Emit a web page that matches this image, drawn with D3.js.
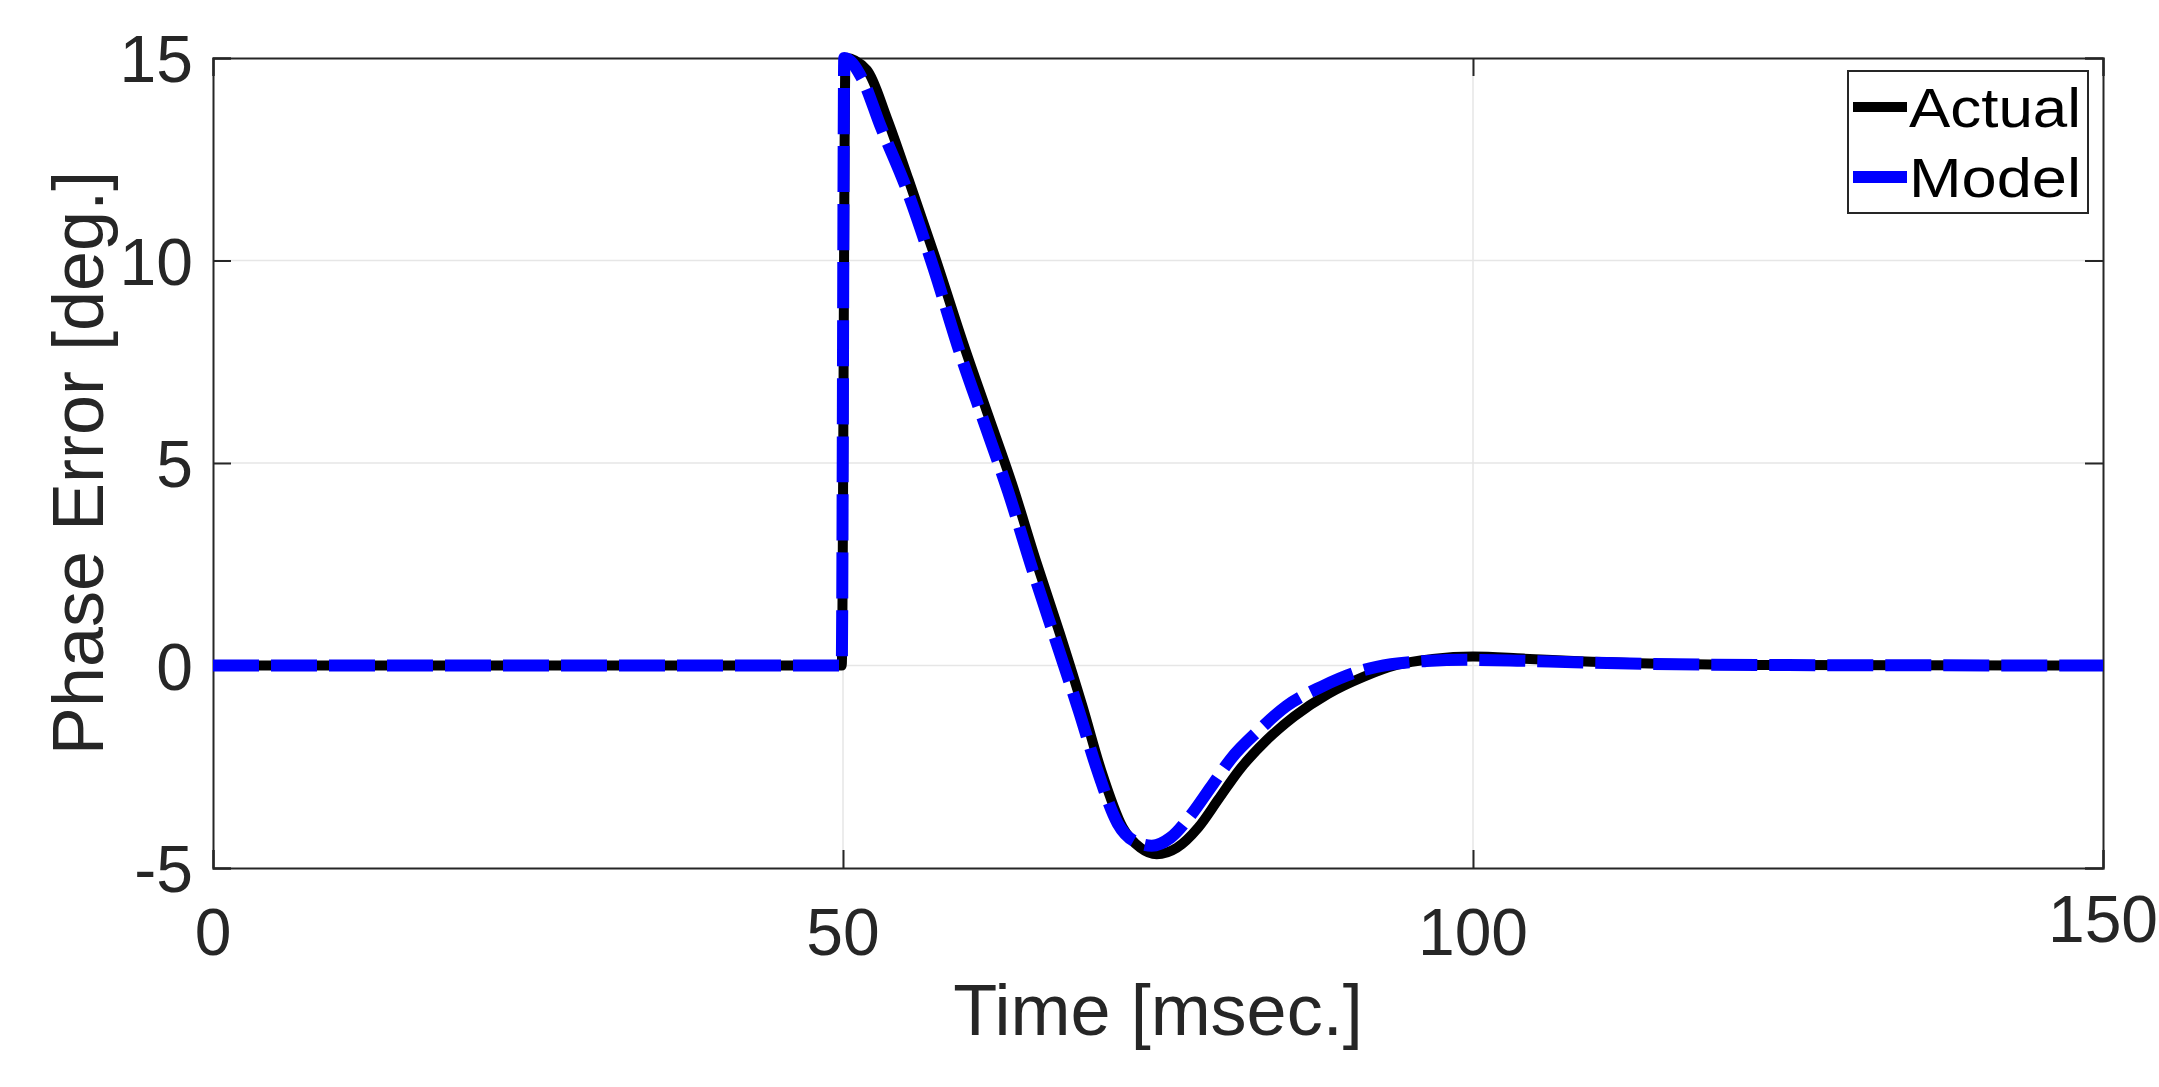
<!DOCTYPE html>
<html><head><meta charset="utf-8">
<script src="https://cdn.jsdelivr.net/npm/d3@7"></script>
<style>body{margin:0;background:#fff}svg{display:block}</style>
</head><body>
<script>
const actualT = [0,49.9,50.2,51.9,53.5,55.2,57.4,59.6,61.5,63.4,65.3,67.2,69,70.5,72.2,73.6,74.9,76.5,78.2,79.8,81.4,83.6,85.8,88.5,91.3,94,96.8,100,104,108,114,125,150];
const actualV = [0,0,15,14.7,13.5,12,10,7.9,6.2,4.5,2.6,0.8,-1,-2.6,-4,-4.5,-4.66,-4.5,-4,-3.3,-2.6,-1.85,-1.26,-0.7,-0.28,0.02,0.16,0.22,0.17,0.11,0.05,0.01,0];
const modelT = [0,49.9,50.1,51.5,53,55,57.2,59.3,61.2,63.1,65,66.9,68.7,70.2,71.8,73.2,74.5,76,77.6,79.2,80.8,83,85.2,88,90.8,93.5,96.3,99.5,103.5,108,114,125,150];
const modelV = [0,0,15,14.5,13.3,11.8,9.8,7.7,6,4.3,2.4,0.6,-1.1,-2.6,-3.9,-4.35,-4.45,-4.25,-3.7,-3,-2.3,-1.6,-1,-0.52,-0.16,0.03,0.11,0.14,0.12,0.08,0.04,0.01,0];
const xTicks = [0,50,100,150];
const yTicks = [-5,0,5,10,15];
const seriesNames = ["Actual","Model"];

const W=2159,H=1087, L=213,R=2103,T=58,B=868;
const svg=d3.select("body").append("svg").attr("width",W).attr("height",H);
const x=d3.scaleLinear().domain([0,150]).range([L,R]);
const y=d3.scaleLinear().domain([-5,15]).range([B,T]);
const font="Liberation Sans, Arial, sans-serif", tc="#262626";

svg.append("g").selectAll("line").data(xTicks.slice(1,-1)).join("line")
 .attr("x1",d=>x(d)).attr("x2",d=>x(d)).attr("y1",T).attr("y2",B).attr("stroke","#e6e6e6").attr("stroke-width",1.5);
svg.append("g").selectAll("line").data(yTicks.slice(1,-1)).join("line")
 .attr("y1",d=>y(d)).attr("y2",d=>y(d)).attr("x1",L).attr("x2",R).attr("stroke","#e6e6e6").attr("stroke-width",1.5);

const ax=svg.append("g").attr("transform",`translate(0,${B})`).call(d3.axisBottom(x).tickValues(xTicks).tickSize(-18).tickFormat(""));
const ax2=svg.append("g").attr("transform",`translate(0,${T})`).call(d3.axisTop(x).tickValues(xTicks).tickSize(-18).tickFormat(""));
const ay=svg.append("g").attr("transform",`translate(${L},0)`).call(d3.axisLeft(y).tickValues(yTicks).tickSize(-18).tickFormat(""));
const ay2=svg.append("g").attr("transform",`translate(${R},0)`).call(d3.axisRight(y).tickValues(yTicks).tickSize(-18).tickFormat(""));
[ax,ax2,ay,ay2].forEach(g=>{g.selectAll("path,line").attr("stroke","#262626").attr("stroke-width",2);});

svg.append("g").selectAll("text").data(xTicks).join("text")
 .attr("x",d=>x(d)).attr("y",d=>d===150?942:955).attr("text-anchor","middle")
 .attr("font-family",font).attr("font-size",66).attr("fill",tc).text(d=>d);
svg.append("g").selectAll("text").data(yTicks).join("text")
 .attr("x",193).attr("y",d=>y(d)+24).attr("text-anchor","end")
 .attr("font-family",font).attr("font-size",66).attr("fill",tc).text(d=>d);

svg.append("text").attr("x",(L+R)/2).attr("y",1035).attr("text-anchor","middle")
 .attr("font-family",font).attr("font-size",72).attr("fill",tc).text("Time [msec.]");
svg.append("text").attr("transform",`translate(103,${(T+B)/2}) rotate(-90)`).attr("text-anchor","middle")
 .attr("font-family",font).attr("font-size",72).attr("fill",tc).text("Phase Error [deg.]");

const line=d3.line().x(d=>x(d[0])).y(d=>y(d[1])).curve(d3.curveMonotoneX);
svg.append("clipPath").attr("id","c").append("rect").attr("x",L).attr("y",T-14).attr("width",R-L).attr("height",B-T+28);
svg.append("path").datum(d3.zip(actualT,actualV)).attr("d",line).attr("fill","none")
 .attr("stroke","#000").attr("stroke-width",10).attr("stroke-linejoin","round").attr("clip-path","url(#c)");
svg.append("path").datum(d3.zip(modelT,modelV)).attr("d",line).attr("fill","none")
 .attr("stroke","#0000ff").attr("stroke-width",12).attr("stroke-dasharray","46 12").attr("clip-path","url(#c)");

const lg=svg.append("g");
lg.append("rect").attr("x",1848).attr("y",71).attr("width",240).attr("height",142).attr("fill","#fff").attr("stroke","#262626").attr("stroke-width",2);
const cols=["#000","#0000ff"], ws=[10,12];
seriesNames.forEach((n,i)=>{
  const yy=107+i*70;
  lg.append("line").attr("x1",1853).attr("x2",1907).attr("y1",yy).attr("y2",yy).attr("stroke",cols[i]).attr("stroke-width",ws[i]);
  lg.append("text").attr("x",1909).attr("y",yy+20).attr("font-family",font).attr("font-size",56).attr("textLength",172).attr("lengthAdjust","spacingAndGlyphs").attr("fill","#000").text(n);
});
</script>
</body></html>
